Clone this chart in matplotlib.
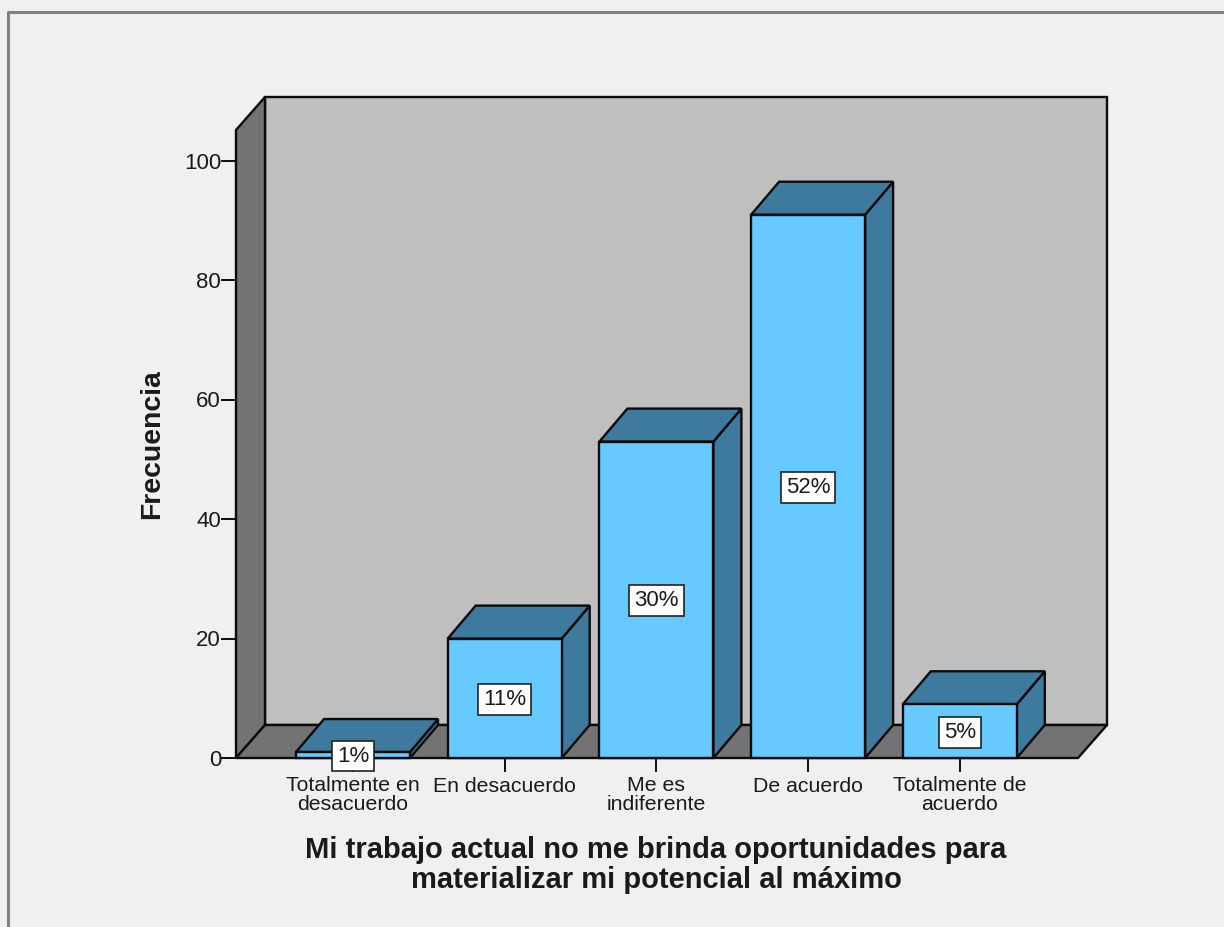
import matplotlib
matplotlib.use('Agg')
import matplotlib.pyplot as plt
from matplotlib.patches import Polygon, Rectangle

categories = ['Totalmente en\ndesacuerdo', 'En desacuerdo', 'Me es\nindiferente', 'De acuerdo', 'Totalmente de\nacuerdo']
values = [1, 20, 53, 91, 9]
pct_labels = ['1%', '11%', '30%', '52%', '5%']
yticks = [0, 20, 40, 60, 80, 100]
ylabel = 'Frecuencia'
xlabel = 'Mi trabajo actual no me brinda oportunidades para\nmaterializar mi potencial al máximo'

plt.rcParams['font.family'] = ['Liberation Sans', 'DejaVu Sans']
W, H = 1224, 927
fig = plt.figure(figsize=(W/100, H/100), dpi=100, facecolor='#f0f0f0')
ax = fig.add_axes([0, 0, 1, 1])
ax.set_xlim(0, W); ax.set_ylim(H, 0); ax.axis('off')

# outer frame
ax.plot([8, 8, 1224], [927, 12, 12], color='#808080', lw=2.2, zorder=1)

x0, y0 = 236, 758      # front-left origin
dx, dy = 29, -33       # depth
ytop = 130
xr = 1078
unit = (758 - 161) / 100.0
def Y(v): return y0 - v * unit

k = '#0a0a0a'
txt = '#1a1a1a'
LW = 1.7
# walls
ax.add_patch(Polygon([(x0+dx, y0+dy), (xr+dx, y0+dy), (xr+dx, ytop+dy), (x0+dx, ytop+dy)], fc='#bfbfbf', ec=k, lw=LW, zorder=2))
ax.add_patch(Polygon([(x0, y0), (x0+dx, y0+dy), (x0+dx, ytop+dy), (x0, ytop)], fc='#737373', ec=k, lw=LW, zorder=2))
ax.add_patch(Polygon([(x0, y0), (xr, y0), (xr+dx, y0+dy), (x0+dx, y0+dy)], fc='#737373', ec=k, lw=LW, zorder=2))

# y axis ticks
for t in yticks:
    ax.plot([x0-14, x0], [Y(t), Y(t)], color=k, lw=1.4, zorder=3)
    ax.text(x0-15, Y(t)+2, str(t), ha='right', va='center', fontsize=16, color=txt)
ax.text(152, 444, ylabel, rotation=90, ha='center', va='center', fontsize=20.4, fontweight='bold', color=txt)

# bars
step = 151.7
bw = 114
first_left = 296
for i, (c, v, p) in enumerate(zip(categories, values, pct_labels)):
    l = first_left + i * step
    r = l + bw
    t = Y(v)
    ax.add_patch(Polygon([(r, y0), (r+dx-1, y0+dy), (r+dx-1, t+dy), (r, t)], fc='#3d7a9e', ec=k, lw=LW, zorder=4+i))
    ax.add_patch(Polygon([(l, t), (r, t), (r+dx-1, t+dy), (l+dx-1, t+dy)], fc='#3d7a9e', ec=k, lw=LW, zorder=4+i))
    ax.add_patch(Rectangle((l, t), bw, y0-t, fc='#66c9ff', ec=k, lw=LW, zorder=4+i))
    cx = l + bw/2
    ax.plot([cx, cx], [y0, y0+13], color=k, lw=1.4, zorder=3)
    ax.text(cx, 786 if '\n' not in c else 795, c, ha='center', va='center', fontsize=15.3, color=txt, linespacing=0.98)
    ly = 756 if v < 3 else (t + y0) / 2 + 1
    ax.text(cx, ly, p, ha='center', va='center', fontsize=16, color=txt, zorder=20,
            bbox=dict(boxstyle='square,pad=0.22', fc='white', ec='#222222', lw=1.2))

ax.text(656, 865, xlabel, ha='center', va='center', fontsize=21, fontweight='bold', color=txt, linespacing=1.05)

fig.savefig('out.png', dpi=100, facecolor=fig.get_facecolor())
